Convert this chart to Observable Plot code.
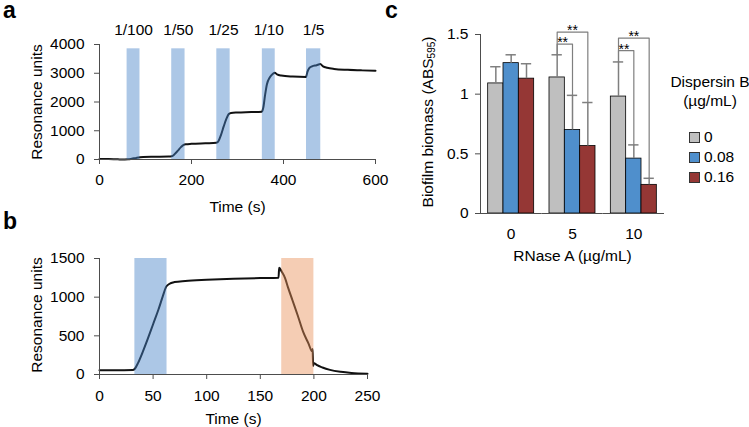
<!DOCTYPE html>
<html><head><meta charset="utf-8">
<script src="https://cdn.jsdelivr.net/npm/d3@7"></script>
<script src="https://cdn.jsdelivr.net/npm/@observablehq/plot@0.6"></script>
<style>
body{margin:0;background:#fff;font-family:"Liberation Sans",Arial,sans-serif;color:#000;}
#root{position:relative;width:749px;height:427px;overflow:hidden;background:#fff;}
.letter{position:absolute;font-weight:bold;font-size:23px;line-height:18px;}
.ytitle{position:absolute;white-space:nowrap;font-size:15.5px;line-height:18px;transform:translate(-50%,-50%) rotate(-90deg);}
.ytitle sub{font-size:10px;vertical-align:-2px;line-height:0;}
.lg{position:absolute;font-size:15.5px;line-height:18px;white-space:nowrap;}
.sw{position:absolute;width:9px;height:9px;border:1px solid #333;}
</style></head>
<body><div id="root"></div>
<script>
// ---------- Panel a : titration sensorgram ----------
const aT = [0,20,40,55,62,70,80,88,95,120,150,157,163,170,177,183,188,200,230,254,258,264,270,276,281,286,300,330,353,356,360,364,370,377,381,386,395,420,449,452,456,462,472,480,486,495,510,540,570,600];
const aV = [20,15,5,0,5,25,55,75,85,95,105,115,180,300,430,510,530,545,565,580,620,850,1150,1420,1580,1620,1635,1650,1665,1800,2250,2620,2850,2980,3020,2960,2920,2885,2870,3050,3180,3240,3280,3320,3240,3190,3150,3120,3100,3085];
const aBandStart = [60,157,255,354,450];
const aBandEnd = [88,186,284,382,481];
const aBandLabels = ["1/100","1/50","1/25","1/10","1/5"];
const aBandTop = 3850;
const aXTicks = [0,200,400,600];
const aYTicks = [0,1000,2000,3000,4000];

// ---------- Panel b : association / dissociation ----------
const bT = [0,15,31,33,36,40,45,50,55,59,62,65,70,80,100,125,150,167,167.6,170,173,176,180,185,190,195,198.3,198.8,199.3,200,203,208,215,225,235,250];
const bV = [55,55,58,75,150,280,460,650,840,1010,1130,1170,1195,1210,1225,1238,1247,1252,1380,1330,1250,1120,960,760,550,400,300,330,110,150,120,90,60,35,20,10];
const bBandStart = [33,170];
const bBandEnd = [63,200];
const bBandColors = ["rgb(70,130,200)","rgb(233,144,89)"];
const bBandTop = 1500;
const bXTicks = [0,50,100,150,200,250];
const bYTicks = [0,500,1000,1500];

// ---------- Panel c : biofilm biomass ----------
const cGroups = ["0","5","10"];            // RNase A (µg/mL)
const cDoses = ["0","0.08","0.16"];        // Dispersin B (µg/mL)
const cColors = ["#bfbfbf","#4f8fcc","#953735"];
const cMeans = [[1.09,1.26,1.13],[1.14,0.70,0.565],[0.98,0.46,0.24]];
const cSD = [[0.14,0.07,0.125],[0.19,0.29,0.365],[0.29,0.115,0.055]];
const cYTicks = [0,0.5,1,1.5];
const brGroup = ["5","5","10","10"];
const brTo = ["0.08","0.16","0.08","0.16"];
const brTop = [1.42,1.52,1.365,1.47];
const brText = ["**","**","**","**"];

const FONT = '"Liberation Sans", Arial, sans-serif';
const style = {fontFamily: FONT, fontSize: "15.5px", color: "#000", background: "transparent", overflow: "visible"};
const axisCol = "#4d4d4d";
const root = document.getElementById("root");
function place(node, left, top){ node.style.position="absolute"; node.style.left=left+"px"; node.style.top=top+"px"; root.appendChild(node); }
function ytitle(html, cx, cy){ const d=document.createElement("div"); d.className="ytitle"; d.innerHTML=html; place(d, cx, cy); }

// Panel a
const aData = aT.map((t,i)=>({t, v:aV[i]}));
const aBands = aBandStart.map((s,i)=>({start:s, end:aBandEnd[i], label:aBandLabels[i]}));
const pa = Plot.plot({
  width: 390, height: 225, marginLeft: 99, marginRight: 15, marginTop: 44, marginBottom: 66,
  style, x: {domain:[0,600]}, y: {domain:[0,4000]},
  marks: [
    Plot.line(aData, {x:"t", y:"v", stroke:"#111", strokeWidth:2, curve:"monotone-x"}),
    Plot.rect(aBands, {x1:"start", x2:"end", y1:0, y2:aBandTop, fill:"rgb(70,130,200)", fillOpacity:0.45}),
    Plot.text(aBands, {x:d=>(d.start+d.end)/2, text:"label", frameAnchor:"top", dy:-21}),
    Plot.ruleY([0], {stroke:axisCol}),
    Plot.ruleX([0], {stroke:axisCol}),
    Plot.axisX({ticks:aXTicks, tickFormat:d=>String(d), tickSize:5, tickPadding:9, stroke:axisCol, fill:"#000", label:null}),
    Plot.axisY({ticks:aYTicks, tickFormat:d=>String(d), tickSize:5, tickPadding:10, stroke:axisCol, fill:"#000", label:null}),
    Plot.text(["Time (s)"], {frameAnchor:"bottom", dy:52})
  ]
});
place(pa, 0, 0);
ytitle("Resonance units", 37, 102);

// Panel b
const bData = bT.map((t,i)=>({t, v:bV[i]}));
const bBands = bBandStart.map((s,i)=>({start:s, end:bBandEnd[i], c:bBandColors[i]}));
const pb = Plot.plot({
  width: 390, height: 217, marginLeft: 99, marginRight: 23, marginTop: 48, marginBottom: 53,
  style, x: {domain:[0,250]}, y: {domain:[0,1500]},
  marks: [
    Plot.line(bData, {x:"t", y:"v", stroke:"#111", strokeWidth:2, curve:"monotone-x"}),
    Plot.rect(bBands, {x1:"start", x2:"end", y1:0, y2:bBandTop, fill:"c", fillOpacity:0.45}),
    Plot.ruleY([0], {stroke:axisCol}),
    Plot.ruleX([0], {stroke:axisCol}),
    Plot.axisX({ticks:bXTicks, tickFormat:d=>String(d), tickSize:5, tickPadding:10, stroke:axisCol, fill:"#000", label:null}),
    Plot.axisY({ticks:bYTicks, tickFormat:d=>String(d), tickSize:5, tickPadding:10, stroke:axisCol, fill:"#000", label:null}),
    Plot.text(["Time (s)"], {frameAnchor:"bottom", dy:49})
  ]
});
place(pb, 0, 210);
ytitle("Resonance units", 37, 315);

// Panel c
const cData = [];
cGroups.forEach((g,gi)=>cDoses.forEach((d,di)=>cData.push({g, d, m:cMeans[gi][di], e:cMeans[gi][di]+cSD[gi][di]})));
const errOf = (g,d)=>cData.find(r=>r.g===g && r.d===d).e;
const brPts = [];
brGroup.forEach((g,i)=>{
  const top = brTop[i];
  brPts.push({id:i, g, d:"0", y:errOf(g,"0")});
  brPts.push({id:i, g, d:"0", y:top});
  brPts.push({id:i, g, d:brTo[i], y:top});
  brPts.push({id:i, g, d:brTo[i], y:errOf(g,brTo[i])});
});
const brLab = brGroup.map((g,i)=>({g, to:brTo[i], y:brTop[i], t:brText[i]}));
const pc = Plot.plot({
  width: 290, height: 270, marginLeft: 100, marginRight: 6, marginTop: 34, marginBottom: 57,
  style,
  fx: {domain:cGroups, padding:0, round:false},
  x: {domain:cDoses, paddingInner:0, paddingOuter:0.5, round:false, axis:null},
  y: {domain:[0,1.5]},
  color: {domain:cDoses, range:cColors},
  marks: [
    Plot.barY(cData, {fx:"g", x:"d", y:"m", fill:"d", stroke:"#000", strokeWidth:0.8}),
    Plot.ruleX(cData, {fx:"g", x:"d", y1:"m", y2:"e", stroke:"#7f7f7f", strokeWidth:1.5}),
    Plot.tickY(cData, {fx:"g", x:"d", y:"e", stroke:"#7f7f7f", strokeWidth:1.5, insetLeft:2.5, insetRight:2.5}),
    Plot.line(brPts, {fx:"g", x:"d", y:"y", z:"id", stroke:"#7f7f7f", strokeWidth:1.2, curve:"linear"}),
    Plot.text(brLab.filter(r=>r.to==="0.08"), {fx:"g", x:()=>"0", y:"y", text:"t", textAnchor:"start", dx:0, dy:3, lineAnchor:"bottom", fontSize:14}),
    Plot.text(brLab.filter(r=>r.to==="0.16"), {fx:"g", x:()=>"0.08", y:"y", text:"t", dy:3, lineAnchor:"bottom", fontSize:14}),
    Plot.ruleY([0], {stroke:axisCol}),
    Plot.frame({anchor:"left", facetAnchor:"left", stroke:axisCol}),
    Plot.axisY({ticks:cYTicks, tickFormat:d=>String(d), tickSize:5, tickPadding:7, stroke:axisCol, fill:"#000", label:null}),
    Plot.axisFx({anchor:"bottom", tickSize:0, tickPadding:14, fill:"#000", label:null}),
    Plot.text(["RNase A (µg/mL)"], {fx:["5"], frameAnchor:"bottom", dy:47})
  ]
});
place(pc, 380, 0);
ytitle("Biofilm biomass (ABS<sub>595</sub>)", 428, 122);

// Legend for panel c
function lg(text, left, top, center){
  const d = document.createElement("div"); d.className="lg"; d.textContent=text;
  if (center) d.style.transform="translate(-50%,0)";
  place(d, left, top);
}
lg("Dispersin B", 710, 73, true);
lg("(µg/mL)", 710, 92, true);
const lgY = [137,157,177];
cDoses.forEach((d,i)=>{
  const s=document.createElement("div"); s.className="sw"; s.style.background=cColors[i];
  place(s, 689, lgY[i]-5);
  lg(d, 704, lgY[i]-9, false);
});

// Panel letters
[["a",3,1],["b",3,212],["c",385,1]].forEach(([t,x,y])=>{
  const d=document.createElement("div"); d.className="letter"; d.textContent=t; place(d,x,y);
});
</script>
</body></html>
